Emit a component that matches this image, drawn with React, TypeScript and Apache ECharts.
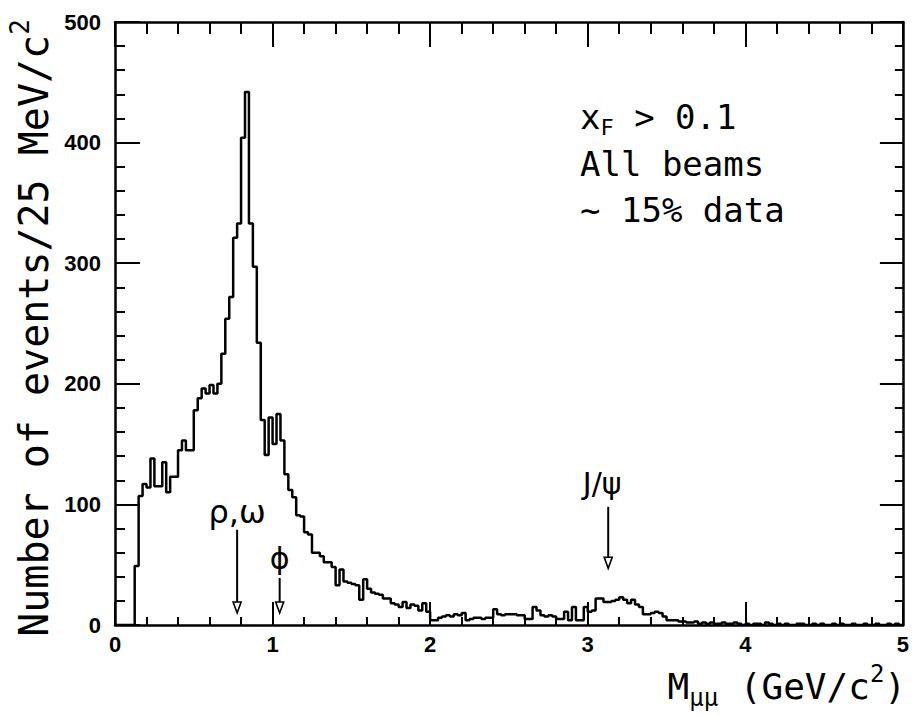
import React, { useEffect, useRef } from "react";
import * as echarts from "echarts";

// Dimuon invariant mass spectrum, 25 MeV/c^2 bins from 0 to 5 GeV/c^2
const binWidth = 0.025;
const counts: number[] = [
  0, 0, 0, 0, 0, 49, 107, 117, 114, 138,
  115, 115, 135, 110, 123, 123, 145, 153, 145, 145,
  178, 188, 196, 192, 199, 192, 200, 225, 254, 272,
  321, 333, 404, 442, 333, 297, 234, 170, 141, 172,
  150, 175, 153, 125, 112, 106, 91, 90, 77, 75,
  60, 60, 57, 52, 52, 48, 33, 46, 36, 35,
  34, 33, 21, 38, 30, 27, 26, 25, 22, 22,
  18, 17, 15, 19, 14, 17, 16, 12, 18, 11,
  4, 4, 6, 7, 8, 7, 9, 8, 10, 4,
  5, 6, 6, 5, 6, 6, 13, 9, 8, 9,
  9, 9, 8, 8, 5, 5, 15, 12, 8, 7,
  8, 7, 5, 5, 11, 4, 15, 4, 4, 15,
  11, 12, 22, 22, 19, 19, 20, 21, 23, 21,
  18, 21, 17, 15, 9, 9, 10, 11, 10, 7,
  4, 4, 4, 3, 3, 2, 2, 3, 1, 2,
  1, 2, 1, 1, 2, 1, 1, 2, 1, 0,
  1, 0, 1, 1, 0, 2, 1, 0, 1, 0,
  1, 0, 0, 1, 1, 0, 0, 1, 0, 1,
  0, 0, 1, 0, 1, 0, 0, 1, 0, 0,
  1, 0, 0, 1, 0, 0, 1, 0, 1, 0,
];

const xRange = [0, 5];
const yRange = [0, 500];

// Resonance markers: label, mass position, arrow top / tip, label height
const resonances = [
  { label: "ρ,ω", x: 0.775, top: 79, tip: 10, labelY: 94, size: 32, dx: 0 },
  { label: "ϕ", x: 1.045, top: 39, tip: 10, labelY: 55, size: 30, dx: 0 },
  { label: "J/ψ", x: 3.13, top: 98, tip: 47, labelY: 117, size: 30, dx: -6 },
];

const MONO = '"DejaVu Sans Mono", monospace';
const SANS = '"DejaVu Sans", sans-serif';
const TICK_FONT = '"Liberation Sans", Arial, sans-serif';

type Run = { text: string; size: number; dy: number; family?: string };

let measureCtx: CanvasRenderingContext2D | null = null;
function textWidth(text: string, size: number, family: string) {
  if (!measureCtx) measureCtx = document.createElement("canvas").getContext("2d");
  measureCtx!.font = `${size}px ${family}`;
  return measureCtx!.measureText(text).width;
}

// Lays out runs of text (with sub/superscripts) left to right
function runsGroup(
  runs: Run[],
  x: number,
  y: number,
  anchor: "left" | "center" | "right",
  rotation = 0
) {
  const widths = runs.map((r) => textWidth(r.text, r.size, r.family || MONO));
  const total = widths.reduce((a, b) => a + b, 0);
  let cursor = anchor === "left" ? 0 : anchor === "center" ? -total / 2 : -total;
  const children = runs.map((r, i) => {
    const el = {
      type: "text",
      x: cursor,
      y: r.dy,
      style: {
        text: r.text,
        fontSize: r.size,
        fontFamily: r.family || MONO,
        fill: "#000",
        align: "left",
        verticalAlign: "middle",
        textAlign: "left",
        textVerticalAlign: "middle",
      },
    };
    cursor += widths[i];
    return el;
  });
  return { type: "group", x, y, rotation, children };
}

export default function App() {
  const ref = useRef<HTMLDivElement>(null);

  useEffect(() => {
    if (!ref.current) return;
    const chart = echarts.init(ref.current, undefined, { renderer: "svg" });

    const points: number[][] = counts.map((c, i) => [i * binWidth, c]);
    points.push([xRange[1], counts[counts.length - 1]]);

    const axisLine = { show: true, onZero: false, lineStyle: { color: "#000", width: 2.5 } };
    const baseX = {
      type: "value",
      min: xRange[0],
      max: xRange[1],
      interval: 1,
      axisLine,
      splitLine: { show: false },
      minorSplitLine: { show: false },
    };
    const baseY = {
      type: "value",
      min: yRange[0],
      max: yRange[1],
      interval: 100,
      axisLine,
      splitLine: { show: false },
      minorSplitLine: { show: false },
    };

    chart.setOption({
      animation: false,
      backgroundColor: "#fff",
      grid: { left: 115, right: 8, top: 22, bottom: 91, containLabel: false },
      xAxis: [
        {
          ...baseX,
          position: "bottom",
          axisTick: { show: true, inside: true, length: 23, lineStyle: { color: "#000", width: 2 } },
          minorTick: { show: true, splitNumber: 5, length: 8, lineStyle: { color: "#000", width: 2 } },
          axisLabel: {
            show: true,
            margin: 8,
            color: "#000",
            fontSize: 22,
            fontFamily: TICK_FONT,
            fontWeight: "bold",
          },
        },
        {
          ...baseX,
          position: "top",
          axisTick: { show: true, inside: true, length: 25, lineStyle: { color: "#000", width: 2 } },
          minorTick: { show: true, splitNumber: 5, length: 12, lineStyle: { color: "#000", width: 2 } },
          axisLabel: { show: false },
        },
      ],
      yAxis: [
        {
          ...baseY,
          position: "left",
          axisTick: { show: true, inside: true, length: 25, lineStyle: { color: "#000", width: 2 } },
          minorTick: { show: true, splitNumber: 5, length: 10, lineStyle: { color: "#000", width: 2 } },
          axisLabel: {
            show: true,
            margin: 14,
            color: "#000",
            fontSize: 22,
            fontFamily: TICK_FONT,
            fontWeight: "bold",
          },
        },
        {
          ...baseY,
          position: "right",
          axisTick: { show: true, inside: true, length: 23, lineStyle: { color: "#000", width: 2 } },
          minorTick: { show: true, splitNumber: 5, length: 8, lineStyle: { color: "#000", width: 2 } },
          axisLabel: { show: false },
        },
      ],
      series: [
        {
          type: "line",
          xAxisIndex: 0,
          yAxisIndex: 0,
          step: "end",
          data: points,
          symbol: "none",
          lineStyle: { color: "#000", width: 2.5 },
          z: 5,
        },
      ],
    });

    const px = (x: number, y: number) =>
      chart.convertToPixel({ xAxisIndex: 0, yAxisIndex: 0 }, [x, y]) as number[];

    const graphics: any[] = [];

    // Resonance arrows with open heads
    resonances.forEach((r) => {
      const [ax, ayTop] = px(r.x, r.top);
      const [, ayTip] = px(r.x, r.tip);
      const [, ly] = px(r.x, r.labelY);
      graphics.push({
        type: "line",
        shape: { x1: ax, y1: ayTop, x2: ax, y2: ayTip - 10 },
        style: { stroke: "#000", lineWidth: 2 },
        z: 10,
      });
      graphics.push({
        type: "polygon",
        shape: { points: [[ax - 4, ayTip - 11], [ax + 4, ayTip - 11], [ax, ayTip]] },
        style: { fill: "#fff", stroke: "#000", lineWidth: 1.6 },
        z: 10,
      });
      graphics.push(
        runsGroup([{ text: r.label, size: r.size, dy: 0, family: SANS }], ax + r.dx, ly, "center")
      );
    });

    // Selection summary
    graphics.push(
      runsGroup(
        [
          { text: "x", size: 34, dy: 0 },
          { text: "F", size: 22, dy: 10 },
          { text: " > 0.1", size: 34, dy: 0 },
        ],
        580,
        117,
        "left"
      )
    );
    graphics.push(runsGroup([{ text: "All beams", size: 34, dy: 0 }], 580, 164, "left"));
    graphics.push(runsGroup([{ text: "~ 15% data", size: 34, dy: 0 }], 580, 210, "left"));

    // Axis titles
    graphics.push(
      runsGroup(
        [
          { text: "M", size: 36, dy: 0 },
          { text: "μμ", size: 24, dy: 12 },
          { text: " (GeV/c", size: 36, dy: 0 },
          { text: "2", size: 24, dy: -12 },
          { text: ")", size: 36, dy: 0 },
        ],
        906,
        686,
        "right"
      )
    );
    graphics.push(
      runsGroup(
        [
          { text: "Number of events/25 MeV/c", size: 40, dy: 0 },
          { text: "2", size: 26, dy: -14 },
        ],
        34,
        328,
        "center",
        Math.PI / 2
      )
    );

    chart.setOption({ graphic: graphics });

    return () => chart.dispose();
  }, []);

  return (
    <div
      ref={ref}
      style={{ position: "absolute", left: 0, top: 0, width: 912, height: 716 }}
    />
  );
}
